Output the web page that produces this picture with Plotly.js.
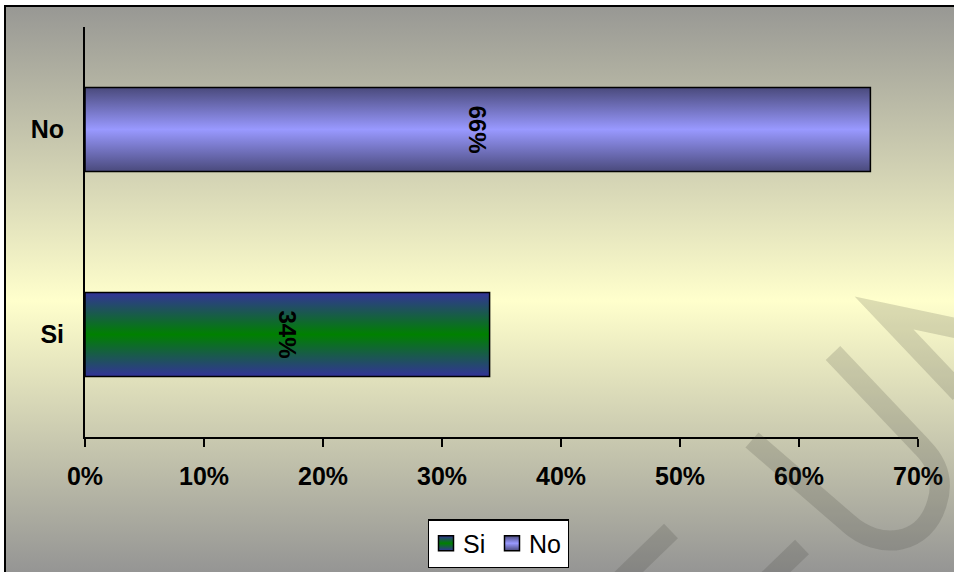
<!DOCTYPE html>
<html>
<head>
<meta charset="utf-8">
<script src="https://cdn.plot.ly/plotly-3.0.1.min.js"></script>
<style>
  body { margin:0; background:#ffffff; overflow:hidden; width:954px; height:572px; }
  #wrap { position:absolute; left:4px; top:5px; width:950px; height:567px;
          border-left:2px solid #000; border-top:2px solid #000; box-sizing:border-box;
          background:linear-gradient(to bottom, #989894 0%, #ffffcc 52%, #959594 100%); }
  #chart { position:absolute; left:0; top:0; width:948px; height:565px; }
  #wm { position:absolute; left:0; top:0; width:954px; height:572px; pointer-events:none; }
</style>
</head>
<body>
<div id="wrap"><div id="chart"></div></div>
<svg id="wm" width="954" height="572" viewBox="0 0 954 572">
  <g fill="none" stroke="rgba(55,55,45,0.17)" stroke-width="20" stroke-linejoin="miter">
    <path d="M 752 440 L 848 523 C 880 552 925 545 937 503 C 945 478 935 460 922 447 L 833 353"/>
    <path d="M 960 329 L 884 313 L 960 393"/>
    <path d="M 671 531 L 605 595"/>
    <path d="M 802 547 L 745 602"/>
  </g>
</svg>
<script>
// ---- data ----
const categories = ['Si', 'No'];
const siValues = [0.34];
const noValues = [0.66];
const xTickVals = [0, 0.1, 0.2, 0.3, 0.4, 0.5, 0.6, 0.7];
const xTickText = ['0%', '10%', '20%', '30%', '40%', '50%', '60%', '70%'];

const FONT = 'Liberation Sans, Arial, sans-serif';
const labelFont = {family: FONT, size: 25, color: '#000', weight: 'bold'};
const barTextFont = {family: FONT, size: 24, color: '#000', weight: 'bold'};

const data = [
  {
    type: 'bar', orientation: 'h', name: 'Si',
    y: [categories[0]], x: siValues,
    marker: {color: '#1b5a66', line: {color: '#000', width: 1.5}},
    texttemplate: '%{x:.0%}', textposition: 'inside', textangle: 90,
    insidetextanchor: 'middle', textfont: barTextFont, constraintext: 'none',
    hoverinfo: 'skip'
  },
  {
    type: 'bar', orientation: 'h', name: 'No',
    y: [categories[1]], x: noValues,
    marker: {color: '#7777cc', line: {color: '#000', width: 1.5}},
    texttemplate: '%{x:.0%}', textposition: 'inside', textangle: 90,
    insidetextanchor: 'middle', textfont: barTextFont, constraintext: 'none',
    hoverinfo: 'skip'
  }
];

const layout = {
  width: 948, height: 565,
  margin: {l: 79, r: 36, t: 20, b: 135},
  paper_bgcolor: 'rgba(0,0,0,0)', plot_bgcolor: 'rgba(0,0,0,0)',
  barmode: 'overlay', bargap: 0.59,
  font: {family: FONT, color: '#000'},
  xaxis: {
    range: [0, 0.7], tickvals: xTickVals, ticktext: xTickText,
    showgrid: false, zeroline: false,
    showline: true, linecolor: '#000', linewidth: 2,
    ticks: 'outside', ticklen: 8, tickwidth: 1.5, tickcolor: '#000',
    ticklabelstandoff: 8,
    tickfont: labelFont, fixedrange: true, automargin: false
  },
  yaxis: {
    type: 'category', categoryorder: 'array', categoryarray: categories,
    showgrid: false, zeroline: false,
    showline: true, linecolor: '#000', linewidth: 2,
    ticks: '', ticklabelstandoff: 14,
    tickfont: labelFont, fixedrange: true, automargin: false
  },
  showlegend: true,
  legend: {
    orientation: 'h', xref: 'paper', x: 0.5, xanchor: 'center',
    yref: 'container', y: 0.0504, yanchor: 'middle',
    bgcolor: '#ffffff', bordercolor: '#000', borderwidth: 1.5,
    font: {family: FONT, size: 25, color: '#000'},
    traceorder: 'normal'
  }
};

const grads = {
  Si: {id: 'gradSi', edge: '#333399', mid: '#008000'},
  No: {id: 'gradNo', edge: '#4a4a7c', mid: '#9999ff'}
};

function parseT(el) {
  const m = /translate\(\s*([-\d.eE]+)[\s,]+([-\d.eE]+)\s*\)/.exec(el.getAttribute('transform') || '');
  return m ? [+m[1], +m[2]] : [0, 0];
}

function applyGradients(gd) {
  const ns = 'http://www.w3.org/2000/svg';
  const svg = gd.querySelector('.main-svg');
  let defs = svg.querySelector('defs');
  if (!defs) { defs = document.createElementNS(ns, 'defs'); svg.insertBefore(defs, svg.firstChild); }
  Object.values(grads).forEach(g => {
    const lg = document.createElementNS(ns, 'linearGradient');
    lg.setAttribute('id', g.id);
    lg.setAttribute('x1', '0'); lg.setAttribute('y1', '0');
    lg.setAttribute('x2', '0'); lg.setAttribute('y2', '1');
    [[0, g.edge], [0.5, g.mid], [1, g.edge]].forEach(([o, c]) => {
      const s = document.createElementNS(ns, 'stop');
      s.setAttribute('offset', o); s.setAttribute('stop-color', c);
      lg.appendChild(s);
    });
    defs.appendChild(lg);
  });
  gd.querySelectorAll('.barlayer .trace').forEach(t => {
    const d = t.__data__;
    const name = d && d[0] && d[0].trace ? d[0].trace.name : null;
    if (name && grads[name]) t.querySelectorAll('.point path').forEach(p => { p.style.fill = 'url(#' + grads[name].id + ')'; });
  });
  const items = gd.querySelectorAll('.legend .traces');
  if (items.length) {
    const [x0] = parseT(items[0]);
    items.forEach((t, i) => {
      const txt = t.querySelector('.legendtext');
      const name = txt ? txt.textContent.trim() : null;
      if (name && grads[name]) t.querySelectorAll('.legendpoints path').forEach(p => {
        p.style.fill = 'url(#' + grads[name].id + ')';
        p.setAttribute('d', 'M7.5,7.5H-7.5V-7.5H7.5Z');
      });
      const [, y] = parseT(t);
      t.setAttribute('transform', 'translate(' + (x0 - 3 + i * 66) + ',' + y + ')');
      if (txt) txt.setAttribute('x', 37);
    });
    const bg = gd.querySelector('.legend rect.bg');
    if (bg) bg.setAttribute('width', 140);
  }
}

Plotly.newPlot('chart', data, layout, {staticPlot: true, displayModeBar: false}).then(applyGradients);
</script>
</body>
</html>
